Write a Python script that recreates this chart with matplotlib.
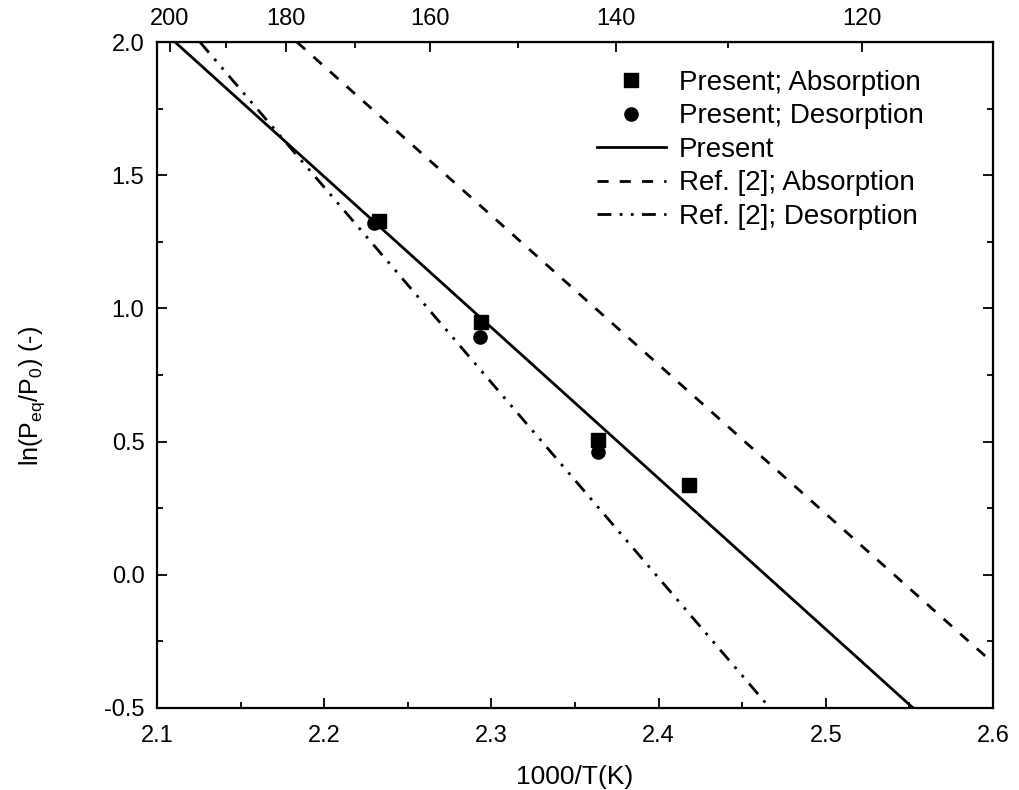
import numpy as np
import matplotlib
matplotlib.use('Agg')
import matplotlib.pyplot as plt

plt.rcParams['font.family'] = ['Liberation Sans', 'DejaVu Sans']
plt.rcParams['mathtext.fontset'] = 'custom'
plt.rcParams['mathtext.rm'] = 'Liberation Sans'
plt.rcParams['mathtext.it'] = 'Liberation Sans:italic'

# measured points
abs_x = [2.233, 2.294, 2.364, 2.418]
abs_y = [1.33, 0.95, 0.506, 0.337]
des_x = [2.230, 2.293, 2.364]
des_y = [1.32, 0.893, 0.461]

# fitted lines (end points)
present_x = [2.1108, 2.5522]
present_y = [2.0, -0.5]
ref_abs_x = [2.1837, 2.6]
ref_abs_y = [2.0, -0.331]
ref_des_x = [2.1257, 2.4666]
ref_des_y = [2.0, -0.5]

# top axis (temperature) tick positions in 1000/T units
top_major_pos = [2.1078, 2.1772, 2.2633, 2.3745, 2.5216]
top_major_lab = ['200', '180', '160', '140', '120']
top_minor_pos = [2.1413, 2.2185, 2.3159, 2.4415]

fig = plt.figure(figsize=(10.19, 7.90), dpi=100)
ax = fig.add_axes([0.154, 0.1038, 0.8205, 0.843])

ax.plot(abs_x, abs_y, 's', color='black', ms=9.5, label='Present; Absorption')
ax.plot(des_x, des_y, 'o', color='black', ms=9.5, label='Present; Desorption')
ax.plot(present_x, present_y, '-', color='black', lw=2, label='Present')
ax.plot(ref_abs_x, ref_abs_y, color='black', lw=2, linestyle=(0, (4, 4)),
        label='Ref. [2]; Absorption')
ax.plot(ref_des_x, ref_des_y, color='black', lw=2, linestyle=(0, (5, 3, 1, 3, 1, 3)),
        label='Ref. [2]; Desorption')

ax.set_xlim(2.1, 2.6)
ax.set_ylim(-0.5, 2.0)
ax.set_xticks(np.arange(2.1, 2.61, 0.1))
ax.set_xticks(np.arange(2.15, 2.6, 0.1), minor=True)
ax.set_yticks(np.arange(-0.5, 2.01, 0.5))
ax.set_yticks(np.arange(-0.25, 2.0, 0.5), minor=True)
ax.set_xticklabels(['2.1', '2.2', '2.3', '2.4', '2.5', '2.6'])
ax.set_yticklabels(['-0.5', '0.0', '0.5', '1.0', '1.5', '2.0'])
ax.tick_params(which='both', direction='in', right=True, labelsize=17, width=1.3)
ax.tick_params(which='major', length=7)
ax.tick_params(which='minor', length=4)
ax.tick_params(axis='x', pad=12)
ax.tick_params(axis='y', pad=9)
for s in ax.spines.values():
    s.set_linewidth(1.6)

top = ax.secondary_xaxis('top')
top.set_xticks(top_major_pos, top_major_lab)
top.set_xticks(top_minor_pos, minor=True)
top.tick_params(which='both', direction='in', labelsize=17, width=1.3)
top.tick_params(which='major', length=7, pad=9)
top.tick_params(which='minor', length=4)

ax.set_xlabel('1000/T(K)', fontsize=19, labelpad=13)
ax.set_ylabel(r'ln(P$_{\rm eq}$/P$_0$) (-)', fontsize=18)
ax.yaxis.set_label_coords(-0.131, 0.468)

ax.legend(loc='upper left', bbox_to_anchor=(0.526, 0.958), frameon=False,
          fontsize=20, handlelength=2.5, handletextpad=0.45, labelspacing=0.27,
          borderaxespad=0, borderpad=0)

fig.savefig('out.png', dpi=100)
